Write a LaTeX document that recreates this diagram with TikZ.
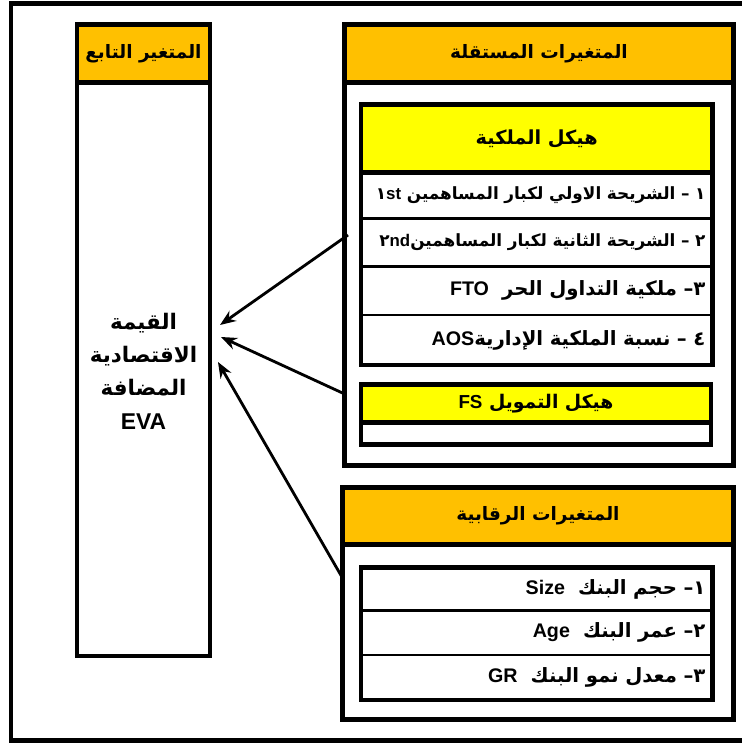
\documentclass[tikz,border=0pt]{standalone}
\usepackage{fontspec}
\usetikzlibrary{arrows.meta}
\setmainfont{DejaVu Sans}
\newfontfamily\arabicfont[Script=Arabic]{DejaVu Sans}
\newfontfamily\latinfont{Liberation Sans}
\TeXXeTstate=1
\definecolor{hdrorange}{HTML}{FFC000}
\definecolor{hdryellow}{HTML}{FFFF00}
\newcommand\lat[1]{\beginL{\latinfont\bfseries #1}\endL}
\tikzset{
  box/.style     = {draw, line width=2.6pt, inner sep=0pt, outer sep=0pt,
                    anchor=north west},
  head/.style    = {box, fill=hdrorange,
                    font=\arabicfont\bfseries\fontsize{10.5}{13}\selectfont},
  subhead/.style = {box, fill=hdryellow,
                    font=\arabicfont\bfseries\fontsize{11}{13}\selectfont},
  item/.style    = {draw, line width=1.6pt, fill=white, inner sep=0pt,
                    outer sep=0pt, anchor=north west, minimum width=7.03cm,
                    text width=6.75cm, align=right,
                    font=\arabicfont\bfseries\fontsize{11.2}{13}\selectfont},
  small/.style   = {font=\arabicfont\bfseries\fontsize{9.6}{11}\selectfont},
  link/.style    = {-{Stealth[length=9pt,width=7pt]}, line width=1.6pt}
}
\begin{document}
\begin{tikzpicture}[x=0.02cm, y=-0.02cm]
  \useasboundingbox (0,0) rectangle (742,744);
  \draw[line width=2.8pt] (742,3.5) -- (11,3.5) -- (11,740.5) -- (742,740.5);

  % dependent variable
  \node [box, fill=white, minimum width=2.66cm, minimum height=12.63cm] (dep) at (77,24.5) {};
  \node [head, minimum width=2.66cm, minimum height=1.16cm] (dephead) at (77,24.5)
    {\beginR المتغير التابع\endR};
  \node [align=center, font=\arabicfont\bfseries\fontsize{12.2}{19}\selectfont] (eva) at (143.5,371)
    {\beginR القيمة\endR\\ \beginR الاقتصادية\endR\\ \beginR المضافة\endR\\ {\latinfont\bfseries\fontsize{13}{19}\selectfont EVA}};

  % independent variables
  \node [box, fill=white, minimum width=7.78cm, minimum height=8.82cm] (indep) at (344.5,24.5) {};
  \node [head, minimum width=7.78cm, minimum height=1.16cm] (indephead) at (344.5,24.5)
    {\beginR المتغيرات المستقلة\endR};

  \node [item, small, minimum height=0.92cm] (own1) at (361,172.5)
    {\beginR ١ – الشريحة الاولي لكبار المساهمين \beginL ١{\latinfont\bfseries st}\endL\endR};
  \node [item, small, minimum height=0.96cm] (own2) at (361,218.5)
    {\beginR ٢ – الشريحة الثانية لكبار المساهمين\beginL ٢{\latinfont\bfseries nd}\endL\endR};
  \node [item, minimum height=0.97cm] (own3) at (361,266.5)
    {\beginR ٣– ملكية التداول الحر\ \ \lat{FTO}\endR};
  \node [item, minimum height=1.0cm] (own4) at (361,315)
    {\beginR ٤ – نسبة الملكية الإدارية\lat{AOS}\endR};
  \node [subhead, minimum width=7.03cm, minimum height=1.36cm] (ownhead) at (361,104.5)
    {\beginR هيكل الملكية\endR};
  \node [box, minimum width=7.03cm, minimum height=5.21cm] (own) at (361,104.5) {};

  \node [item, minimum width=7.0cm, minimum height=0.44cm] (fsrow) at (361,422.5) {};
  \node [subhead, minimum width=7.0cm, minimum height=0.76cm, font=\arabicfont\bfseries\fontsize{10.7}{13}\selectfont] (fshead) at (361,384.5)
    {\beginR هيكل التمويل \lat{FS}\endR};
  \node [box, minimum width=7.0cm, minimum height=1.2cm] (fs) at (361,384.5) {};

  % control variables
  \node [box, fill=white, minimum width=7.82cm, minimum height=4.64cm] (ctrl) at (342.5,487.5) {};
  \node [head, minimum width=7.82cm, minimum height=1.14cm] (ctrlhead) at (342.5,487.5)
    {\beginR المتغيرات الرقابية\endR};
  \node [item, minimum height=0.86cm] (ctrl1) at (361,567.5)
    {\beginR ١– حجم البنك\ \ \lat{Size}\endR};
  \node [item, minimum height=0.89cm] (ctrl2) at (361,610.5)
    {\beginR ٢– عمر البنك\ \ \lat{Age}\endR};
  \node [item, minimum height=0.9cm] (ctrl3) at (361,655)
    {\beginR ٣– معدل نمو البنك\ \ \lat{GR}\endR};
  \node [box, minimum width=7.03cm, minimum height=2.65cm] (ctrlin) at (361,567.5) {};

  % arrows
  \coordinate (ownout)  at (348,235);
  \coordinate (fsout)   at (342.5,393);
  \coordinate (ctrlout) at (342.5,578);
  \coordinate (evain1)  at (220,325);
  \coordinate (evain2)  at (221,337);
  \coordinate (evain3)  at (218,362);
  \draw [link] (ownout)  -- (evain1);
  \draw [link] (fsout)   -- (evain2);
  \draw [link] (ctrlout) -- (evain3);
\end{tikzpicture}
\end{document}
